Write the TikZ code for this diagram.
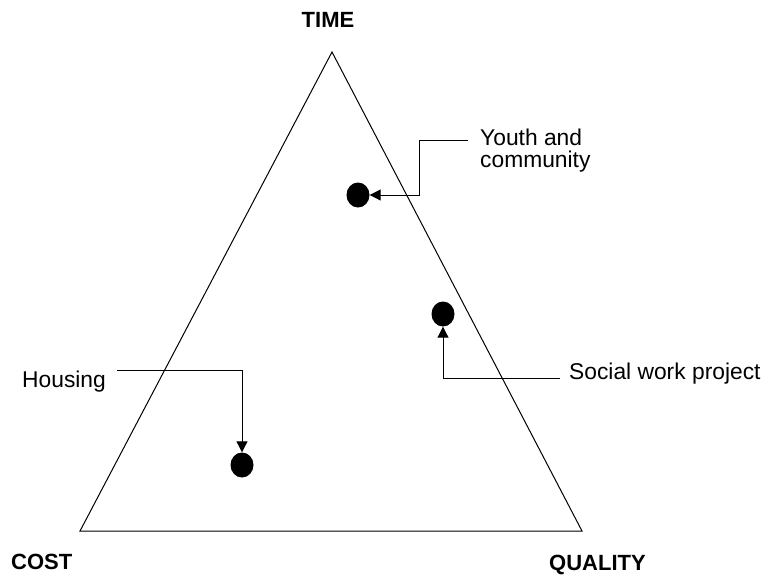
\documentclass[tikz,border=0pt]{standalone}
\usepackage{fontspec}
\setmainfont{Liberation Sans}
\usetikzlibrary{arrows.meta,positioning,shapes.geometric}

\tikzset{
  corner/.style={font=\bfseries\fontsize{22}{22}\selectfont,inner sep=0pt},
  caption/.style={font=\fontsize{22.8}{22}\selectfont,inner sep=0pt,align=left},
  dot/.style={ellipse,fill=black,inner sep=0pt,minimum width=23pt,minimum height=25pt},
  pointer/.style={-{Triangle[length=11pt,width=11pt]},line width=1pt},
}

\begin{document}
\begin{tikzpicture}[x=1pt,y=-1pt]
\useasboundingbox (0,0) rectangle (768,576);
% triangle
\coordinate (top) at (332,52);
\coordinate (left) at (80,531);
\coordinate (right) at (582,531);
\draw[line width=1pt] (top) -- (right) -- (left) -- cycle;
\node[corner,anchor=base] (time) at (328,27) {TIME};
\node[corner,anchor=base west] (cost) at (11,569) {COST};
\node[corner,anchor=base west] (quality) at (549,570) {QUALITY};
% projects
\node[dot] (ydot) at (358,195) {};
\node[dot] (sdot) at (443,314) {};
\node[dot] (hdot) at (242,465) {};
\node[caption,anchor=north west] (youth) at (480,128.5) {Youth and\\community};
\node[caption,anchor=base west] (social) at (569,379) {Social work project};
\node[caption,anchor=base west] (housing) at (22,387) {Housing};
\coordinate (ystart) at (468,140);
\coordinate (ybend) at (419,195);
\coordinate (sstart) at (560,378);
\coordinate (hstart) at (117,370);
\draw[pointer] (ystart) -| (ybend) -- (ydot);
\draw[pointer] (sstart) -| (sdot);
\draw[pointer] (hstart) -| (hdot);
\end{tikzpicture}
\end{document}
